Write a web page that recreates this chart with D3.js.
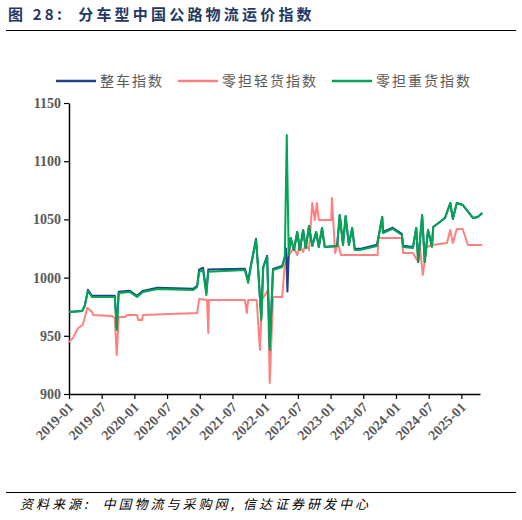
<!DOCTYPE html>
<html><head><meta charset="utf-8">
<script src="https://cdn.jsdelivr.net/npm/d3@7"></script>
<style>body{margin:0;background:#fff;}</style>
</head><body><svg id="c" width="522" height="520"></svg>
<script>
// data: [decimal year, index]
var heavy = [[2019.00,970.5],[2019.20,971.3],[2019.24,975.6],[2019.29,988.5],[2019.35,983.4],[2019.70,983.4],[2019.73,955],[2019.76,986.8],[2019.93,987.6],[2020.04,983.4],[2020.13,987.6],[2020.35,990.2],[2020.90,989.4],[2020.96,992],[2020.99,1004.8],[2021.05,1006.5],[2021.10,985],[2021.13,1005],[2021.69,1006.5],[2021.74,995.4],[2021.78,1009.1],[2021.86,1032.3],[2021.89,1009],[2021.94,963.6],[2021.97,1008.3],[2022.03,1017.7],[2022.07,937.8],[2022.12,1006.5],[2022.26,1009.1],[2022.30,1016.9],[2022.33,1122.5],[2022.36,1019.4],[2022.39,1034],[2022.44,1023.7],[2022.49,1039.2],[2022.53,1023.7],[2022.58,1040.9],[2022.62,1025.4],[2022.67,1044.3],[2022.72,1027.2],[2022.78,1039.2],[2022.82,1026.3],[2022.87,1042.6],[2022.91,1026.3],[2023.10,1027.2],[2023.14,1053.8],[2023.19,1028],[2023.23,1052.9],[2023.28,1028],[2023.33,1042.6],[2023.37,1023.7],[2023.45,1023.7],[2023.71,1027.2],[2023.79,1052.1],[2023.80,1038.3],[2023.95,1041.8],[2024.09,1036.6],[2024.11,1026.3],[2024.26,1025.4],[2024.31,1042.6],[2024.34,1013.4],[2024.40,1053.8],[2024.44,1013.4],[2024.49,1040.9],[2024.55,1026.3],[2024.57,1043.5],[2024.75,1051.2],[2024.83,1064.1],[2024.87,1050.4],[2024.93,1064.1],[2025.02,1062.4],[2025.18,1051.2],[2025.25,1052],[2025.32,1055.5]];
var truck = [[2019.00,970.5],[2019.20,971.3],[2019.24,975.6],[2019.29,989.5],[2019.35,984.4],[2019.70,984.4],[2019.73,957],[2019.76,987.8],[2019.93,988.6],[2020.04,984.4],[2020.13,988.6],[2020.35,991.2],[2020.90,990.4],[2020.96,993],[2020.99,1006.8],[2021.05,1008.5],[2021.10,987],[2021.13,1007],[2021.69,1007.5],[2021.74,997.4],[2021.78,1010.1],[2021.86,1033.3],[2021.89,1010],[2021.94,965.6],[2021.97,1009.3],[2022.03,1018.7],[2022.07,940.8],[2022.12,1007.5],[2022.26,1010.1],[2022.30,1017.9],[2022.32,1025],[2022.34,988],[2022.36,1019.4],[2022.39,1034],[2022.44,1023.7],[2022.49,1039.2],[2022.53,1023.7],[2022.58,1040.9],[2022.62,1025.4],[2022.67,1044.3],[2022.72,1027.2],[2022.78,1039.2],[2022.82,1026.3],[2022.87,1042.6],[2022.91,1026.3],[2023.10,1027.2],[2023.14,1053.8],[2023.19,1028],[2023.23,1052.9],[2023.28,1028],[2023.33,1042.6],[2023.37,1024.7],[2023.45,1024.7],[2023.71,1028.2],[2023.79,1052.1],[2023.80,1039.3],[2023.95,1042.8],[2024.09,1037.6],[2024.11,1027.3],[2024.26,1026.4],[2024.31,1042.6],[2024.34,1013.4],[2024.40,1053.8],[2024.44,1013.4],[2024.49,1040.9],[2024.55,1027.3],[2024.57,1043.5],[2024.75,1051.2],[2024.83,1064.1],[2024.87,1050.4],[2024.93,1064.1],[2025.02,1062.4],[2025.18,1051.2],[2025.25,1052],[2025.32,1055.5]];
var light = [[2019.00,944.7],[2019.06,948],[2019.14,956.7],[2019.21,959.3],[2019.28,974],[2019.35,970.5],[2019.37,967.9],[2019.66,967],[2019.70,965.3],[2019.73,933.5],[2019.76,966.2],[2019.86,966.2],[2019.89,967.9],[2020.04,967.9],[2020.06,963.6],[2020.12,963.6],[2020.13,967.9],[2020.96,969.6],[2020.99,981.6],[2021.11,980.8],[2021.13,952.4],[2021.14,980.8],[2021.69,980.8],[2021.72,969.6],[2021.74,980.8],[2021.87,980.8],[2021.92,937.8],[2021.95,980.8],[2022.04,989.4],[2022.07,909.5],[2022.12,983.4],[2022.26,983.4],[2022.30,1010.8],[2022.38,1021.1],[2022.44,1025.4],[2022.49,1019.4],[2022.53,1028],[2022.58,1022],[2022.62,1028.9],[2022.67,1023.7],[2022.72,1064.1],[2022.76,1049.5],[2022.79,1064.1],[2022.82,1049.5],[2023.01,1049.5],[2023.02,1068.4],[2023.07,1021.1],[2023.11,1029.7],[2023.16,1019.4],[2023.72,1019.4],[2023.73,1034],[2024.09,1034],[2024.11,1021.1],[2024.26,1021.1],[2024.32,1015.1],[2024.37,1025.4],[2024.41,1002.3],[2024.47,1026.3],[2024.55,1028],[2024.78,1029.7],[2024.83,1040.9],[2024.87,1029.7],[2024.93,1041.8],[2025.02,1041.8],[2025.10,1028],[2025.32,1028]];
var xTicks = [2019,2019.5,2020,2020.5,2021,2021.5,2022,2022.5,2023,2023.5,2024,2024.5,2025];
var yTicks = [900,950,1000,1050,1100,1150];
var names = ['整车指数','零担轻货指数','零担重货指数'];
var colors = ['#1f3f8a','#ff8080','#00a651'];

var svg = d3.select('#c');
var x = d3.scaleLinear().domain([2019, 2025.285]).range([69, 480]);
var y = d3.scaleLinear().domain([900, 1150]).range([394, 103]);

svg.append('text').attr('x', 8).attr('y', 20).attr('fill', '#1f3864')
  .attr('font-family', 'Noto Sans CJK SC').attr('font-weight', 'bold').attr('font-size', 15)
  .attr('letter-spacing', 3.2).attr('xml:space', 'preserve')
  .text('图 28:  分车型中国公路物流运价指数');
svg.append('line').attr('x1', 6).attr('x2', 516).attr('y1', 30.5).attr('y2', 30.5).attr('stroke', '#000').attr('stroke-width', 1);
svg.append('line').attr('x1', 6).attr('x2', 516).attr('y1', 492.5).attr('y2', 492.5).attr('stroke', '#000').attr('stroke-width', 1);
svg.append('text').attr('x', 20).attr('y', 509).attr('fill', '#000')
  .attr('font-family', 'Noto Sans CJK SC').attr('font-style', 'italic').attr('font-size', 13)
  .attr('letter-spacing', 3).attr('xml:space', 'preserve')
  .text('资料来源:  中国物流与采购网, 信达证券研发中心');

// legend
var lx = [56, 178, 332];
names.forEach(function (n, i) {
  svg.append('line').attr('x1', lx[i]).attr('x2', lx[i] + 40).attr('y1', 81).attr('y2', 81)
    .attr('stroke', colors[i]).attr('stroke-width', 2.5);
  svg.append('text').attr('x', lx[i] + 44).attr('y', 86).attr('fill', '#595959')
    .attr('font-family', 'Noto Sans CJK SC').attr('font-size', 14).attr('letter-spacing', 2).text(n);
});

var ya = svg.append('g').attr('transform', 'translate(69,0)')
  .call(d3.axisLeft(y).tickValues(yTicks).tickSize(5).tickSizeOuter(0).tickFormat(d3.format('d')));
var xa = svg.append('g').attr('transform', 'translate(0,394)')
  .call(d3.axisBottom(x).tickValues(xTicks).tickSize(5).tickSizeOuter(0)
    .tickFormat(function (d) { return Math.floor(d) + (d % 1 ? '-07' : '-01'); }));
[ya, xa].forEach(function (a) {
  a.select('.domain').attr('stroke', '#000').attr('stroke-width', 1.5);
  a.selectAll('.tick line').attr('stroke', '#000').attr('stroke-width', 1.2);
  a.selectAll('text').attr('font-family', 'Liberation Serif').attr('font-weight', 'bold')
    .attr('font-size', 14).attr('fill', '#595959');
});
ya.selectAll('text').attr('x', -8);
xa.selectAll('text').attr('text-anchor', 'end').attr('dx', 0).attr('dy', 0).attr('y', 0)
  .attr('transform', 'translate(5,14) rotate(-45)');

var line = d3.line().x(function (d) { return x(d[0]); }).y(function (d) { return y(d[1]); });
[light, truck, heavy].forEach(function (s, i) {
  svg.append('path').datum(s).attr('d', line).attr('fill', 'none')
    .attr('stroke', [colors[1], colors[0], colors[2]][i]).attr('stroke-width', 2).attr('stroke-linejoin', 'round');
});
</script></body></html>
